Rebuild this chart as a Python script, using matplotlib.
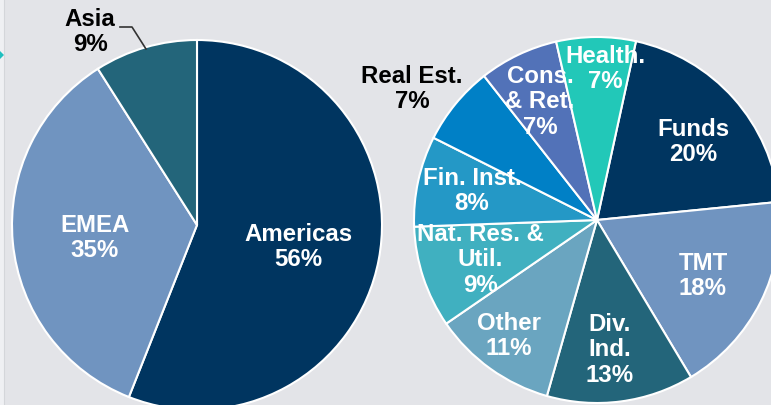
# Two pies: region split and sector split
import matplotlib
matplotlib.use('Agg')
import matplotlib.pyplot as plt
import matplotlib.patches as mpatches

plt.rcParams['font.family'] = ['Liberation Sans', 'DejaVu Sans']

# Data
region_names = ['Americas', 'EMEA', 'Asia']
region_values = [56, 35, 9]

sector_names = ['Funds', 'TMT', 'Div.\nInd.', 'Other', 'Nat. Res. &\nUtil.',
                'Fin. Inst.', 'Real Est.', 'Cons.\n& Ret.', 'Health.']
sector_values = [20, 18, 13, 11, 9, 8, 7, 7, 7]

# Styles
W, H = 771, 405
bg = '#e3e4e8'
region_colors = ['#003560', '#7094c0', '#23657a']
sector_colors = ['#003560', '#7094c0', '#23657a', '#6aa5c0', '#40b0c0',
                 '#2498c6', '#0080c6', '#5272b8', '#22c8b8']

# label anchors (image pixels, y down) and colours
region_lab_pos = [(298, 247), (95, 238), (90, 32)]
region_lab_col = ['white', 'white', 'black']
sector_lab_pos = [(693, 142), (703, 276), (610, 350), (509, 336), (480, 260),
                  (472, 191), (412, 89), (540, 102), (605, 69)]
sector_lab_col = ['white'] * 6 + ['black', 'white', 'white']

fig = plt.figure(figsize=(W / 100, H / 100), dpi=100)
fig.patch.set_facecolor(bg)
ax = fig.add_axes([0, 0, 1, 1])
ax.set_facecolor(bg)

wp = dict(edgecolor='white', linewidth=1.5)
ax.pie(region_values, colors=region_colors, startangle=90, counterclock=False,
       center=(197, H - 225), radius=185, frame=True, wedgeprops=wp)
ax.pie(sector_values, colors=sector_colors, startangle=77.7, counterclock=False,
       center=(597, H - 220), radius=183, frame=True, wedgeprops=wp)

fs = 17.3
for name, val, (x, y), c in zip(region_names, region_values, region_lab_pos, region_lab_col):
    ax.text(x, H - y, f'{name}\n{val}%', ha='center', va='center', color=c,
            fontsize=fs, fontweight='bold', linespacing=1.15)
for name, val, (x, y), c in zip(sector_names, sector_values, sector_lab_pos, sector_lab_col):
    ax.text(x, H - y, f'{name}\n{val}%', ha='center', va='center', color=c,
            fontsize=fs, fontweight='bold', linespacing=1.15)

# leader line for Asia
ax.plot([120, 132, 146], [H - 27, H - 27, H - 49], color='#333333', lw=1.2)

# left strip and small arrow tip
ax.add_patch(mpatches.Rectangle((0, 0), 4, H, facecolor='#eff0f3', edgecolor='none'))
ax.plot([4, 4], [0, H], color='#d4d6da', lw=0.8)
ax.add_patch(mpatches.Polygon([(0, H - 51), (4, H - 55), (0, H - 59)],
                              closed=True, facecolor='#1fbfbf', edgecolor='none'))

ax.set_xlim(0, W)
ax.set_ylim(0, H)
ax.set_aspect('auto')
ax.axis('off')

fig.savefig('out.png', dpi=100, facecolor=bg)
